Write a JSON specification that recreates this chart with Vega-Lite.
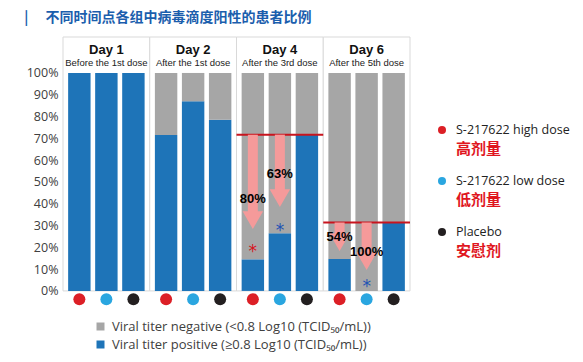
{
  "$schema": "https://vega.github.io/schema/vega-lite/v6.json",
  "background": "white",
  "padding": {"left": 24, "top": 10, "right": 0, "bottom": 0},
  "title": {
    "text": "|　 不同时间点各组中病毒滴度阳性的患者比例",
    "anchor": "start",
    "frame": "bounds",
    "font": "Noto Sans CJK SC",
    "fontSize": 14,
    "fontWeight": "bold",
    "color": "#1B5EAD",
    "offset": 12,
    "dx": -2
  },
  "config": {
    "view": {"stroke": null},
    "axisY": {
      "labelFont": "Open Sans", "tickCount": 12,
      "labelExpr": "datum.value > 1.001 || datum.value < -0.001 ? '' : format(datum.value, '.0%')",
      "grid": false, "domain": false, "ticks": false, "labelOverlap": false,
      "labelFontSize": 12.5, "labelColor": "#404040", "labelPadding": 5
    }
  },
  "datasets": {
    "bars": [
      {"day": "Day 1", "group": "high", "status": "Viral titer positive (≥0.8 Log10 (TCID₅₀/mL))", "value": 1.0},
      {"day": "Day 1", "group": "high", "status": "Viral titer negative (<0.8 Log10 (TCID₅₀/mL))", "value": 0.0},
      {"day": "Day 1", "group": "low", "status": "Viral titer positive (≥0.8 Log10 (TCID₅₀/mL))", "value": 1.0},
      {"day": "Day 1", "group": "low", "status": "Viral titer negative (<0.8 Log10 (TCID₅₀/mL))", "value": 0.0},
      {"day": "Day 1", "group": "placebo", "status": "Viral titer positive (≥0.8 Log10 (TCID₅₀/mL))", "value": 1.0},
      {"day": "Day 1", "group": "placebo", "status": "Viral titer negative (<0.8 Log10 (TCID₅₀/mL))", "value": 0.0},
      {"day": "Day 2", "group": "high", "status": "Viral titer positive (≥0.8 Log10 (TCID₅₀/mL))", "value": 0.715},
      {"day": "Day 2", "group": "high", "status": "Viral titer negative (<0.8 Log10 (TCID₅₀/mL))", "value": 0.285},
      {"day": "Day 2", "group": "low", "status": "Viral titer positive (≥0.8 Log10 (TCID₅₀/mL))", "value": 0.87},
      {"day": "Day 2", "group": "low", "status": "Viral titer negative (<0.8 Log10 (TCID₅₀/mL))", "value": 0.13},
      {"day": "Day 2", "group": "placebo", "status": "Viral titer positive (≥0.8 Log10 (TCID₅₀/mL))", "value": 0.785},
      {"day": "Day 2", "group": "placebo", "status": "Viral titer negative (<0.8 Log10 (TCID₅₀/mL))", "value": 0.215},
      {"day": "Day 4", "group": "high", "status": "Viral titer positive (≥0.8 Log10 (TCID₅₀/mL))", "value": 0.145},
      {"day": "Day 4", "group": "high", "status": "Viral titer negative (<0.8 Log10 (TCID₅₀/mL))", "value": 0.855},
      {"day": "Day 4", "group": "low", "status": "Viral titer positive (≥0.8 Log10 (TCID₅₀/mL))", "value": 0.265},
      {"day": "Day 4", "group": "low", "status": "Viral titer negative (<0.8 Log10 (TCID₅₀/mL))", "value": 0.735},
      {"day": "Day 4", "group": "placebo", "status": "Viral titer positive (≥0.8 Log10 (TCID₅₀/mL))", "value": 0.717},
      {"day": "Day 4", "group": "placebo", "status": "Viral titer negative (<0.8 Log10 (TCID₅₀/mL))", "value": 0.283},
      {"day": "Day 6", "group": "high", "status": "Viral titer positive (≥0.8 Log10 (TCID₅₀/mL))", "value": 0.147},
      {"day": "Day 6", "group": "high", "status": "Viral titer negative (<0.8 Log10 (TCID₅₀/mL))", "value": 0.853},
      {"day": "Day 6", "group": "low", "status": "Viral titer positive (≥0.8 Log10 (TCID₅₀/mL))", "value": 0.0},
      {"day": "Day 6", "group": "low", "status": "Viral titer negative (<0.8 Log10 (TCID₅₀/mL))", "value": 1.0},
      {"day": "Day 6", "group": "placebo", "status": "Viral titer positive (≥0.8 Log10 (TCID₅₀/mL))", "value": 0.314},
      {"day": "Day 6", "group": "placebo", "status": "Viral titer negative (<0.8 Log10 (TCID₅₀/mL))", "value": 0.686}
    ],
    "panels": [
      {"day": "Day 1", "sub": "Before the 1st dose"},
      {"day": "Day 2", "sub": "After the 1st dose"},
      {"day": "Day 4", "sub": "After the 3rd dose"},
      {"day": "Day 6", "sub": "After the 5th dose"}
    ],
    "lines": [
      {"day": "Day 4", "level": 0.717},
      {"day": "Day 6", "level": 0.314}
    ],
    "arrows": [
      {"day": "Day 4", "group": "high", "start": 0.717, "head": 0.325, "label": "80%", "labelY": 0.422},
      {"day": "Day 4", "group": "low", "start": 0.717, "head": 0.426, "label": "63%", "labelY": 0.537},
      {"day": "Day 6", "group": "high", "start": 0.314, "head": 0.224, "label": "54%", "labelY": 0.248},
      {"day": "Day 6", "group": "low", "start": 0.314, "head": 0.137, "label": "100%", "labelY": 0.179}
    ],
    "stars": [
      {"day": "Day 4", "group": "high", "y": 0.2},
      {"day": "Day 4", "group": "low", "y": 0.30},
      {"day": "Day 6", "group": "low", "y": 0.04}
    ],
    "groups": [
      {"group": "high", "en": "S-217622 high dose", "zh": "高剂量"},
      {"group": "low", "en": "S-217622 low dose", "zh": "低剂量"},
      {"group": "placebo", "en": "Placebo", "zh": "安慰剂"}
    ]
  },
  "spacing": 21,
  "resolve": {"legend": {"color": "independent"}, "scale": {"y": "independent"}},
  "hconcat": [
    {
      "width": 347,
      "height": 267,
      "layer": [
        {
          "data": {"name": "panels"},
          "mark": {"type": "rect", "fill": "white", "stroke": "#D9D9D9", "strokeWidth": 1},
          "encoding": {
            "x": {"field": "day", "type": "nominal", "scale": {"paddingInner": 0, "paddingOuter": 0}, "axis": null},
            "y": {"datum": 0, "type": "quantitative", "title": null, "scale": {"domain": [-0.06, 1.165], "nice": false, "zero": false}},
            "y2": {"datum": 1.165}
          }
        },
        {
          "data": {"name": "panels"},
          "mark": {"type": "text", "font": "Liberation Sans", "fontWeight": "bold", "fontSize": 13, "color": "#111111", "baseline": "middle"},
          "encoding": {
            "x": {"field": "day", "type": "nominal"},
            "y": {"datum": 1.105, "type": "quantitative", "title": null},
            "text": {"field": "day"}
          }
        },
        {
          "data": {"name": "panels"},
          "mark": {"type": "text", "font": "Liberation Sans", "fontSize": 9.5, "color": "#222222", "baseline": "middle"},
          "encoding": {
            "x": {"field": "day", "type": "nominal"},
            "y": {"datum": 1.048, "type": "quantitative", "title": null},
            "text": {"field": "sub"}
          }
        },
        {
          "data": {"name": "bars"},
          "mark": {"type": "bar"},
          "encoding": {
            "x": {"field": "day", "type": "nominal"},
            "xOffset": {"field": "group", "type": "nominal", "scale": {"domain": ["high", "low", "placebo"], "paddingInner": 0.17, "paddingOuter": 0.19}},
            "y": {"field": "value", "type": "quantitative", "stack": "zero", "title": null},
            "color": {
              "field": "status", "type": "nominal",
              "scale": {"domain": ["Viral titer negative (<0.8 Log10 (TCID₅₀/mL))", "Viral titer positive (≥0.8 Log10 (TCID₅₀/mL))"], "range": ["#A6A6A6", "#1E74B8"]},
              "legend": {
                "orient": "none", "legendX": 31, "legendY": 283, "title": null, "direction": "vertical",
                "symbolType": "square", "symbolSize": 64, "symbolStrokeWidth": 0,
                "labelFont": "Open Sans", "labelFontSize": 13, "labelColor": "#404040", "labelLimit": 400,
                "rowPadding": 4, "labelOffset": 5
              }
            },
            "order": {"field": "status", "sort": "descending"}
          }
        },
        {
          "data": {"name": "lines"},
          "mark": {"type": "rect", "fill": "transparent", "stroke": "#C8141E", "strokeWidth": 2},
          "encoding": {
            "x": {"field": "day", "type": "nominal"},
            "y": {"field": "level", "type": "quantitative", "title": null},
            "y2": {"field": "level"}
          }
        },
        {
          "data": {"name": "arrows"},
          "mark": {"type": "rule", "color": "#F59A9A", "strokeWidth": 10, "strokeCap": "butt"},
          "encoding": {
            "x": {"field": "day", "type": "nominal"},
            "xOffset": {"field": "group", "type": "nominal"},
            "y": {"field": "start", "type": "quantitative", "title": null},
            "y2": {"field": "head"}
          }
        },
        {
          "data": {"name": "arrows"},
          "mark": {"type": "point", "shape": "triangle-down", "filled": true, "size": 420, "color": "#F59A9A", "opacity": 1},
          "encoding": {
            "x": {"field": "day", "type": "nominal"},
            "xOffset": {"field": "group", "type": "nominal"},
            "y": {"field": "head", "type": "quantitative", "title": null}
          }
        },
        {
          "data": {"name": "arrows"},
          "mark": {"type": "text", "font": "Liberation Sans", "fontWeight": "bold", "fontSize": 13, "color": "#000000", "baseline": "middle"},
          "encoding": {
            "x": {"field": "day", "type": "nominal"},
            "xOffset": {"field": "group", "type": "nominal"},
            "y": {"field": "labelY", "type": "quantitative", "title": null},
            "text": {"field": "label"}
          }
        },
        {
          "data": {"name": "stars"},
          "transform": [{"filter": {"field": "group", "equal": "high"}}],
          "mark": {"type": "text", "font": "DejaVu Sans", "fontSize": 17, "color": "#D7141C", "baseline": "alphabetic", "dy": 10},
          "encoding": {
            "x": {"field": "day", "type": "nominal"},
            "xOffset": {"field": "group", "type": "nominal"},
            "y": {"field": "y", "type": "quantitative", "title": null},
            "text": {"value": "*"}
          }
        },
        {
          "data": {"name": "stars"},
          "transform": [{"filter": {"field": "group", "equal": "low"}}],
          "mark": {"type": "text", "font": "DejaVu Sans", "fontSize": 17, "color": "#2253B4", "baseline": "alphabetic", "dy": 10},
          "encoding": {
            "x": {"field": "day", "type": "nominal"},
            "xOffset": {"field": "group", "type": "nominal"},
            "y": {"field": "y", "type": "quantitative", "title": null},
            "text": {"value": "*"}
          }
        },
        {
          "data": {"name": "bars"},
          "transform": [{"filter": {"field": "status", "equal": "Viral titer positive (≥0.8 Log10 (TCID₅₀/mL))"}}],
          "mark": {"type": "point", "shape": "circle", "filled": true, "size": 144, "opacity": 1, "strokeWidth": 0},
          "encoding": {
            "x": {"field": "day", "type": "nominal"},
            "xOffset": {"field": "group", "type": "nominal"},
            "y": {"datum": -0.038, "type": "quantitative", "title": null},
            "fill": {"field": "group", "type": "nominal", "scale": {"domain": ["high", "low", "placebo"], "range": ["#DC1F26", "#2AA6E0", "#231F20"]}, "legend": null}
          }
        }
      ]
    },
    {
      "width": 20,
      "height": 267,
      "data": {"name": "groups"},
      "encoding": {
        "y": {"field": "en", "type": "nominal", "sort": null, "scale": {"padding": 0, "range": [93, 195]}, "axis": null}
      },
      "layer": [
        {
          "mark": {"type": "point", "shape": "circle", "filled": true, "size": 64, "opacity": 1, "strokeWidth": 0},
          "encoding": {
            "fill": {"field": "group", "type": "nominal", "scale": {"domain": ["high", "low", "placebo"], "range": ["#DC1F26", "#2AA6E0", "#231F20"]}, "legend": null}
          }
        },
        {
          "mark": {"type": "text", "align": "left", "baseline": "middle", "dx": 14, "font": "Open Sans", "fontSize": 12.5, "color": "#222222"},
          "encoding": {"text": {"field": "en"}}
        },
        {
          "mark": {"type": "text", "align": "left", "baseline": "middle", "dx": 14, "dy": 19, "font": "Noto Sans CJK SC", "fontWeight": "bold", "fontSize": 15, "color": "#E0161E"},
          "encoding": {"text": {"field": "zh"}}
        }
      ]
    }
  ]
}
